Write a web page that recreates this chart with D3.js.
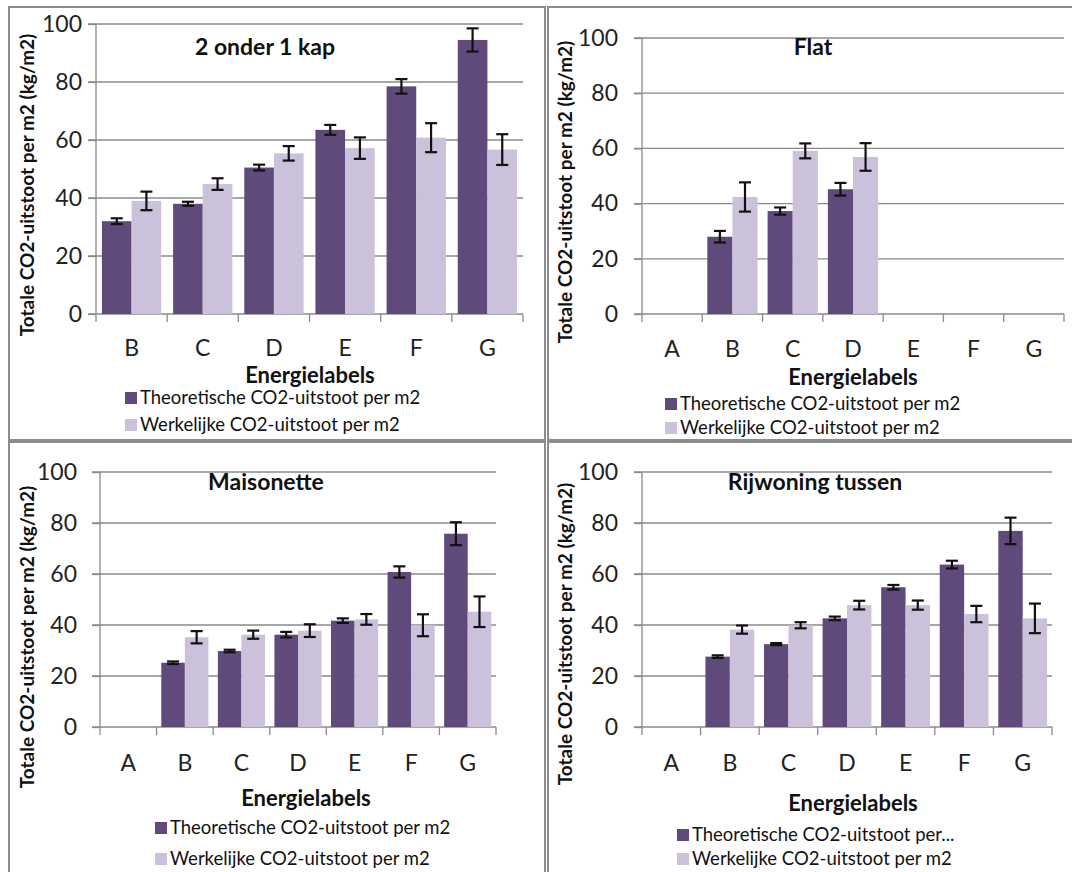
<!DOCTYPE html>
<head>
<meta charset="utf-8">
<style>
  body { margin: 0; background: #fff; }
  svg { display: block; font-family: Lato, 'Open Sans', sans-serif; }
</style>
</head>
<body>
<div id="chart_container"></div>
<script src="https://cdn.jsdelivr.net/npm/d3@7"></script>
<script>

const seriesNames = ['Theoretische CO2-uitstoot per m2', 'Werkelijke CO2-uitstoot per m2']
const colors = ['#604A7B', '#CCC1DA']
const yTicks = [0, 20, 40, 60, 80, 100]

// 2 onder 1 kap
const cats2o1 = ['B', 'C', 'D', 'E', 'F', 'G']
const theo2o1 = [32, 38, 50.5, 63.5, 78.5, 94.5]
const theoErr2o1 = [1, 0.7, 1, 1.7, 2.5, 4]
const werk2o1 = [39, 44.8, 55.4, 57.2, 60.8, 56.7]
const werkErr2o1 = [3.2, 2, 2.5, 3.7, 5, 5.3]

// Flat
const catsFlat = ['A', 'B', 'C', 'D', 'E', 'F', 'G']
const theoFlat = [null, 28, 37.3, 45.2, null, null, null]
const theoErrFlat = [null, 2.1, 1.3, 2.3, null, null, null]
const werkFlat = [null, 42.4, 59.1, 56.9, null, null, null]
const werkErrFlat = [null, 5.3, 2.7, 5, null, null, null]

// Maisonette
const catsMais = ['A', 'B', 'C', 'D', 'E', 'F', 'G']
const theoMais = [null, 25.2, 29.8, 36.2, 41.7, 60.8, 75.8]
const theoErrMais = [null, 0.5, 0.5, 1.1, 0.9, 2.2, 4.5]
const werkMais = [null, 35.2, 36.2, 37.8, 42.2, 39.9, 45.2]
const werkErrMais = [null, 2.4, 1.6, 2.5, 2.1, 4.3, 6]

// Rijwoning tussen
const catsRij = ['A', 'B', 'C', 'D', 'E', 'F', 'G']
const theoRij = [null, 27.6, 32.5, 42.6, 54.8, 63.7, 76.9]
const theoErrRij = [null, 0.5, 0.4, 0.7, 0.9, 1.5, 5.2]
const werkRij = [null, 38.2, 39.9, 47.8, 47.8, 44.3, 42.6]
const werkErrRij = [null, 1.6, 1.2, 1.7, 1.8, 3.2, 5.8]

const panels = [
  { title: '2 onder 1 kap', cats: cats2o1, vals: [theo2o1, werk2o1], errs: [theoErr2o1, werkErr2o1],
    legend: seriesNames,
    frame: [9, 7, 536, 433], plot: { x0: 96, x1: 523, y0: 314, y1: 24 }, tickGap: 14,
    titleXY: [265, 47], xLabY: 348, xTitleXY: [310, 375], yTitleXY: [27, 185],
    legX: 125, legY: [398, 425] },
  { title: 'Flat', cats: catsFlat, vals: [theoFlat, werkFlat], errs: [theoErrFlat, werkErrFlat],
    legend: seriesNames,
    frame: [548, 7, 540, 433], plot: { x0: 642, x1: 1064, y0: 314, y1: 38 }, tickGap: 24,
    titleXY: [813, 47], xLabY: 349, xTitleXY: [853, 377], yTitleXY: [565, 192],
    legX: 665, legY: [404, 428] },
  { title: 'Maisonette', cats: catsMais, vals: [theoMais, werkMais], errs: [theoErrMais, werkErrMais],
    legend: seriesNames,
    frame: [9, 442, 536, 450], plot: { x0: 100, x1: 496, y0: 727, y1: 472 }, tickGap: 23,
    titleXY: [266, 482], xLabY: 763, xTitleXY: [306, 798], yTitleXY: [27, 637],
    legX: 155, legY: [828, 859] },
  { title: 'Rijwoning tussen', cats: catsRij, vals: [theoRij, werkRij], errs: [theoErrRij, werkErrRij],
    legend: ['Theoretische CO2-uitstoot per...', 'Werkelijke CO2-uitstoot per m2'],
    frame: [548, 442, 540, 450], plot: { x0: 642, x1: 1052, y0: 727, y1: 472 }, tickGap: 24,
    titleXY: [815, 482], xLabY: 763, xTitleXY: [853, 803], yTitleXY: [565, 634],
    legX: 677, legY: [835, 859] }
]

const svg = d3.select('#chart_container')
  .append('svg')
  .attr('width', 1072)
  .attr('height', 872)

const gridColor = '#8a8a8a'

panels.forEach(p => {
  const g = svg.append('g')

  g.append('rect')
    .attr('x', p.frame[0]).attr('y', p.frame[1])
    .attr('width', p.frame[2]).attr('height', p.frame[3])
    .attr('fill', 'none').attr('stroke', '#8c8c8c').attr('stroke-width', 2)

  const x = d3.scaleBand().domain(p.cats).range([p.plot.x0, p.plot.x1])
  const y = d3.scaleLinear().domain([0, 100]).range([p.plot.y0, p.plot.y1])
  // gap width 40% of a bar
  const barW = x.bandwidth() / 2.4
  const sub = d3.scaleBand().domain([0, 1]).range([barW * 0.2, barW * 2.2])

  // gridlines
  g.selectAll('.grid').data(yTicks.filter(t => t > 0)).enter().append('line')
    .attr('x1', p.plot.x0 - 8).attr('x2', p.plot.x1)
    .attr('y1', d => y(d)).attr('y2', d => y(d))
    .attr('stroke', gridColor).attr('stroke-width', 1.3)

  // y axis
  const yAxis = d3.axisLeft(y).tickValues(yTicks).tickSize(8).tickPadding(p.tickGap - 8)
  const ya = g.append('g').attr('transform', `translate(${p.plot.x0},0)`).call(yAxis)
  ya.selectAll('path,line').attr('stroke', gridColor).attr('stroke-width', 1.3)
  ya.select('.domain').attr('d', `M0,${p.plot.y1}V${p.plot.y0}`)
  ya.selectAll('text').attr('font-size', 23).attr('fill', '#222').attr('font-family', 'Lato')

  // x axis
  const xa = g.append('g').attr('transform', `translate(0,${p.plot.y0})`)
  xa.append('line').attr('x1', p.plot.x0 - 8).attr('x2', p.plot.x1)
    .attr('stroke', gridColor).attr('stroke-width', 1.3)
  const bounds = p.cats.map(c => x(c)).concat([p.plot.x1])
  xa.selectAll('.tk').data(bounds).enter().append('line')
    .attr('x1', d => d).attr('x2', d => d).attr('y1', 0).attr('y2', 8)
    .attr('stroke', gridColor).attr('stroke-width', 1.3)
  g.selectAll('.xl').data(p.cats).enter().append('text')
    .attr('x', d => x(d) + x.bandwidth() / 2)
    .attr('y', p.xLabY)
    .attr('dy', '0.36em')
    .attr('text-anchor', 'middle')
    .attr('font-size', 23).attr('fill', '#222')
    .text(d => d)

  // bars + error bars
  p.vals.forEach((vals, s) => {
    const items = p.cats.map((c, i) => ({ c, v: vals[i], e: p.errs[s][i] })).filter(d => d.v != null)
    g.selectAll('.bar' + s).data(items).enter().append('rect')
      .attr('x', d => x(d.c) + sub(s))
      .attr('width', sub.bandwidth())
      .attr('y', d => y(d.v))
      .attr('height', d => y(0) - y(d.v))
      .attr('fill', colors[s])

    const eb = g.selectAll('.err' + s).data(items).enter().append('g')
      .attr('stroke', '#111').attr('stroke-width', 2.2)
    const cx = d => x(d.c) + sub(s) + sub.bandwidth() / 2
    eb.append('line').attr('x1', cx).attr('x2', cx)
      .attr('y1', d => y(d.v + d.e)).attr('y2', d => y(d.v - d.e))
    eb.append('line').attr('x1', d => cx(d) - 6).attr('x2', d => cx(d) + 6)
      .attr('y1', d => y(d.v + d.e)).attr('y2', d => y(d.v + d.e))
    eb.append('line').attr('x1', d => cx(d) - 6).attr('x2', d => cx(d) + 6)
      .attr('y1', d => y(d.v - d.e)).attr('y2', d => y(d.v - d.e))
  })

  // titles
  g.append('text')
    .attr('x', p.titleXY[0]).attr('y', p.titleXY[1]).attr('dy', '0.36em')
    .attr('text-anchor', 'middle').attr('font-size', 23).attr('font-weight', 'bold')
    .attr('fill', '#111').text(p.title)

  g.append('text')
    .attr('x', p.xTitleXY[0]).attr('y', p.xTitleXY[1]).attr('dy', '0.36em')
    .attr('text-anchor', 'middle').attr('font-size', 22).attr('font-weight', 'bold')
    .attr('fill', '#111').text('Energielabels')

  g.append('text')
    .attr('transform', `translate(${p.yTitleXY[0]},${p.yTitleXY[1]}) rotate(-90)`)
    .attr('dy', '0.36em')
    .attr('text-anchor', 'middle').attr('font-size', 19).attr('font-weight', 'bold')
    .attr('fill', '#111').text('Totale CO2-uitstoot per m2 (kg/m2)')

  // legend
  p.legend.forEach((name, s) => {
    g.append('rect')
      .attr('x', p.legX).attr('y', p.legY[s] - 6)
      .attr('width', 12).attr('height', 12)
      .attr('fill', colors[s])
    g.append('text')
      .attr('x', p.legX + 15).attr('y', p.legY[s]).attr('dy', '0.34em')
      .attr('font-size', 18.5).attr('fill', '#111').text(name)
  })
})

</script>
</body>
